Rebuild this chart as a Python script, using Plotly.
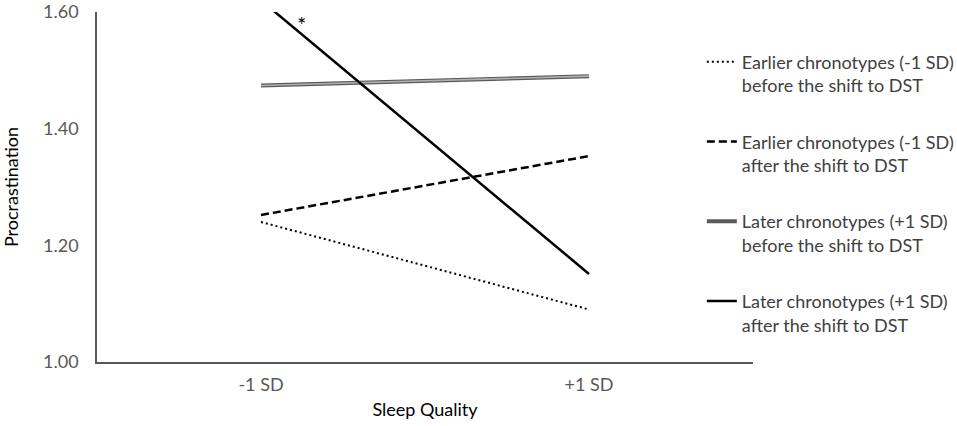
import plotly.graph_objects as go

categories = ["-1 SD", "+1 SD"]
earlier_before = [1.240, 1.090]
earlier_after = [1.252, 1.353]
later_before = [1.474, 1.490]
later_after = [1.620, 1.151]
y_ticks = [1.00, 1.20, 1.40, 1.60]

names = [
    "Earlier chronotypes (-1 SD)<br>before the shift to DST",
    "Earlier chronotypes (-1 SD)<br>after the shift to DST",
    "Later chronotypes (+1 SD)<br>before the shift to DST",
    "Later chronotypes (+1 SD)<br>after the shift to DST",
]

FONT = "Lato"
FS = 18
fig = go.Figure()
fig.add_trace(go.Scatter(x=categories, y=earlier_before, mode="lines", name=names[0],
                         legendgroup="g1",
                         line=dict(color="black", width=2, dash="2px,3px")))
fig.add_trace(go.Scatter(x=categories, y=earlier_after, mode="lines", name=names[1],
                         legendgroup="g2",
                         line=dict(color="black", width=2.5, dash="8px,4px")))
fig.add_trace(go.Scatter(x=categories, y=later_before, mode="lines", name=names[2],
                         legendgroup="g3",
                         line=dict(color="#5a5a5a", width=4)))
fig.add_trace(go.Scatter(x=categories, y=later_before, mode="lines", showlegend=False,
                         legendgroup="g3", hoverinfo="skip",
                         line=dict(color="#b0b0b0", width=1.6)))
fig.add_trace(go.Scatter(x=categories, y=later_after, mode="lines", name=names[3],
                         legendgroup="g4",
                         line=dict(color="black", width=2.5)))

fig.add_annotation(x=0.124, y=1.578, xref="x", yref="y", text="*", showarrow=False,
                   font=dict(family=FONT, size=22, color="black"))

fig.update_layout(
    width=957, height=426,
    margin=dict(l=97, r=204, t=12, b=64, autoexpand=False),
    paper_bgcolor="white", plot_bgcolor="white",
    font=dict(family=FONT, size=FS, color="#404040"),
    showlegend=True,
    legend=dict(x=0.922, xanchor="left", y=0.91, yanchor="top",
                valign="top", tracegroupgap=30, bgcolor="rgba(0,0,0,0)",
                font=dict(family=FONT, size=FS, color="#404040")),
)
fig.update_xaxes(type="category", range=[-0.5, 1.5], showline=True, linecolor="#595959",
                 linewidth=1.5, showgrid=False, zeroline=False, ticks="", automargin=False,
                 ticklabelstandoff=6,
                 tickfont=dict(family=FONT, size=FS, color="#595959"),
                 title=dict(text="Sleep Quality", font=dict(family=FONT, size=FS, color="black"),
                            standoff=9))
fig.update_yaxes(range=[1.0, 1.6], tickvals=y_ticks, tickformat=".2f", showline=True,
                 linecolor="#595959", linewidth=1.5, showgrid=False, zeroline=False, ticks="",
                 ticklabelstandoff=13, automargin=False, ticklabeloverflow="allow",
                 tickfont=dict(family=FONT, size=FS, color="#595959"),
                 title=dict(text="Procrastination", font=dict(family=FONT, size=FS, color="black"),
                            standoff=22))

fig.write_html("out.html", config={"displayModeBar": False},
               post_script="document.body.style.margin='0';")
